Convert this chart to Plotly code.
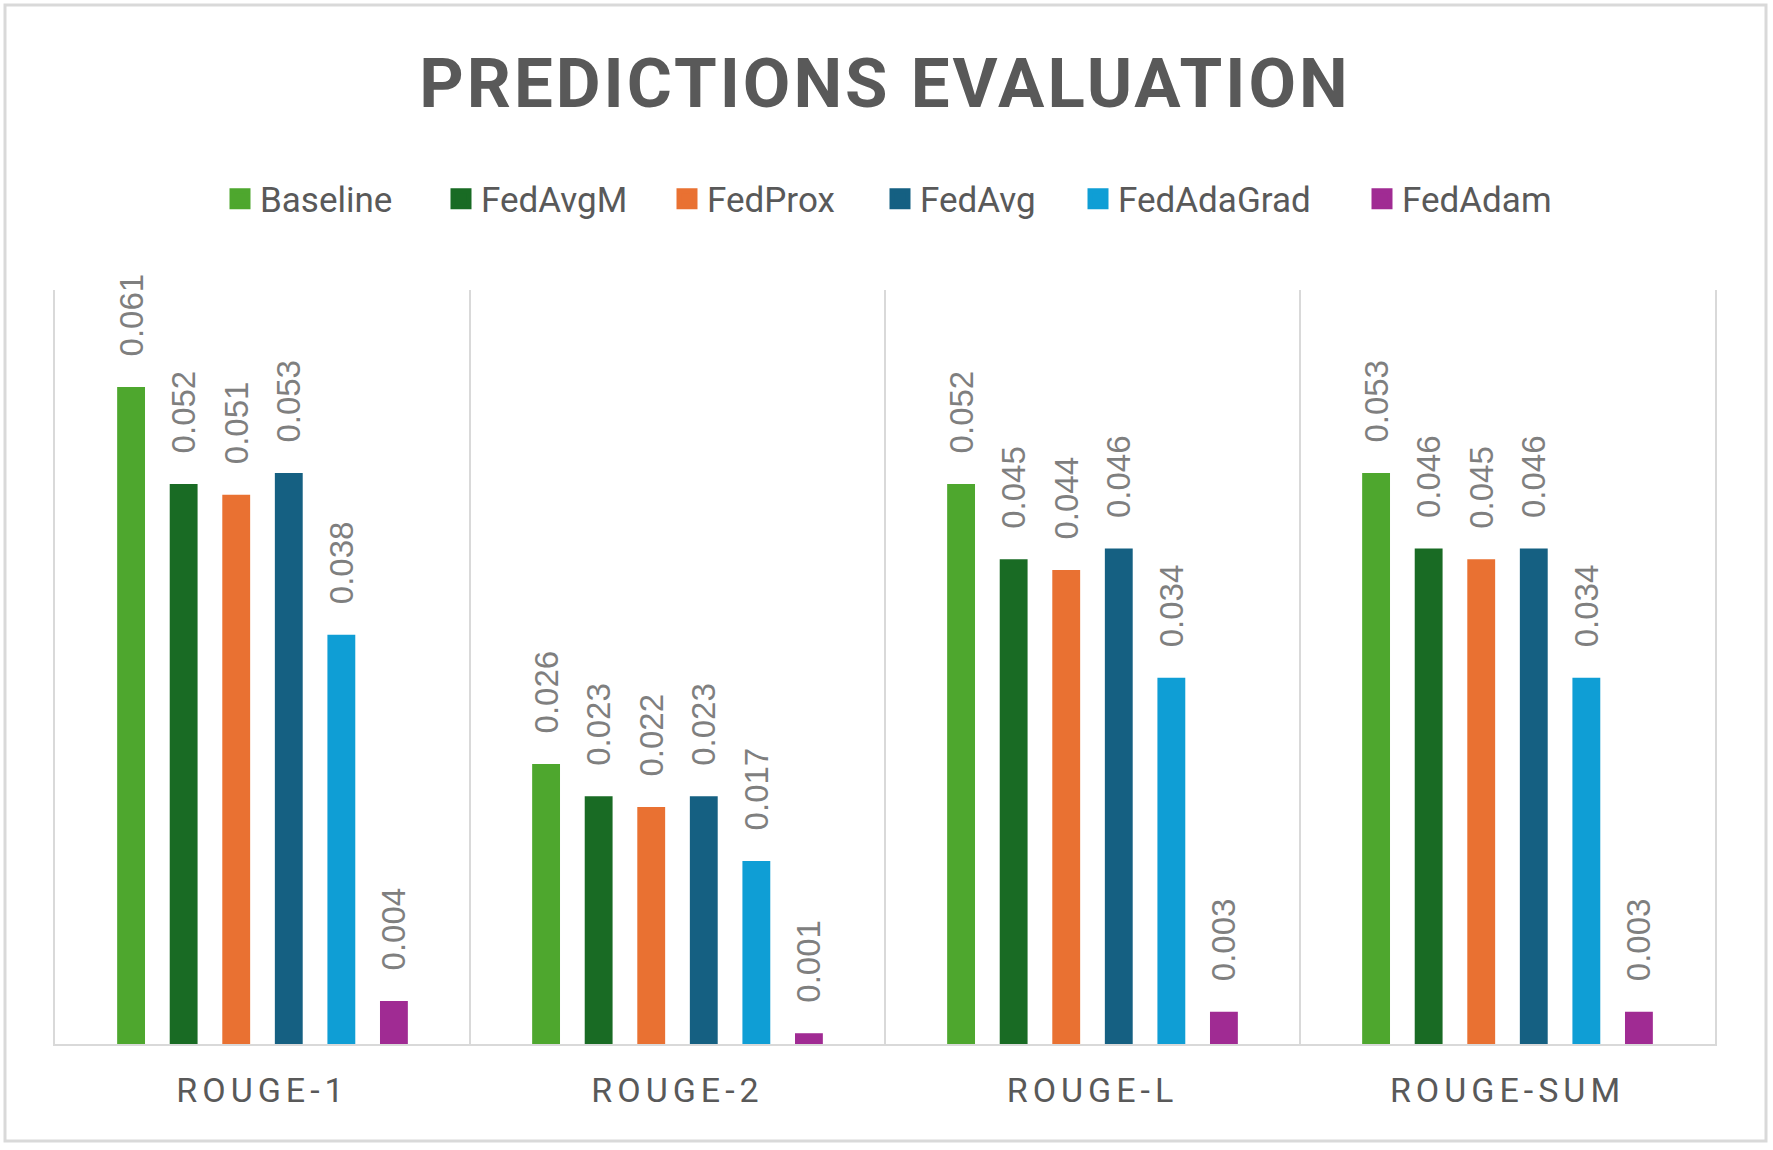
import plotly.graph_objects as go

categories = ["ROUGE-1", "ROUGE-2", "ROUGE-L", "ROUGE-SUM"]
series_names = ["Baseline", "FedAvgM", "FedProx", "FedAvg", "FedAdaGrad", "FedAdam"]
baseline = [0.061, 0.026, 0.052, 0.053]
fedavgm = [0.052, 0.023, 0.045, 0.046]
fedprox = [0.051, 0.022, 0.044, 0.045]
fedavg = [0.053, 0.023, 0.046, 0.046]
fedadagrad = [0.038, 0.017, 0.034, 0.034]
fedadam = [0.004, 0.001, 0.003, 0.003]
series_values = [baseline, fedavgm, fedprox, fedavg, fedadagrad, fedadam]
colors = ["#4EA72E", "#196B24", "#E97132", "#156082", "#0F9ED5", "#A02B93"]

W, H = 1773, 1150
L, R, T, B = 55, 58, 290, 106
pw, ph = W - L - R, H - T - B

def px_x(p):
    return (p - L) / pw

def px_y(p):
    return (H - B - p) / ph

legend_left_px = [220, 441, 667, 880, 1078, 1362]

fig = go.Figure()
for i, (name, vals, col) in enumerate(zip(series_names, series_values, colors)):
    lg = "legend" if i == 0 else f"legend{i+1}"
    fig.add_trace(go.Bar(
        x=categories, y=vals, name=name, marker=dict(color=col, line=dict(width=0)),
        texttemplate="\u00a0\u00a0\u00a0%{y:.3f}", textposition="outside", textangle=-90,
        constraintext="none", cliponaxis=False,
        textfont=dict(family="Liberation Sans, Arial, sans-serif", size=33, color="#7F7F7F"),
        showlegend=False, legendgroup=name, hoverinfo="skip",
    ))
    fig.add_trace(go.Scatter(
        x=[None], y=[None], mode="markers", name=name, legendgroup=name, legend=lg,
        marker=dict(symbol="square", size=16, color=col, line=dict(color=col, width=5)),
        showlegend=True, hoverinfo="skip",
    ))

layout = dict(
    width=W, height=H,
    margin=dict(l=L, r=R, t=T, b=B, pad=0),
    paper_bgcolor="white", plot_bgcolor="white",
    barmode="group", bargap=0.24, bargroupgap=0.47,
    title=dict(text="<b>PREDICTIONS EVALUATION</b>", x=0.5, xref="paper", xanchor="center",
               y=1 - 83 / H, yanchor="middle", yref="container",
               font=dict(family="Roboto, sans-serif", size=69, color="#595959")),
    xaxis=dict(type="category", range=[-0.5, 3.5], showgrid=True, tickson="boundaries",
               gridcolor="#D9D9D9", gridwidth=2, ticks="", showline=True, linecolor="#D9D9D9",
               linewidth=2, zeroline=False, ticklabelstandoff=15,
               tickfont=dict(family="Roboto, sans-serif", size=34, color="#595959")),
    yaxis=dict(range=[0, 0.07], showgrid=False, showticklabels=False, ticks="", zeroline=False,
               showline=True, mirror=True, linecolor="#D9D9D9", linewidth=2),
    shapes=[dict(type="rect", xref="paper", yref="paper",
                 x0=px_x(5), x1=px_x(1766), y0=px_y(1141), y1=px_y(5),
                 line=dict(color="#D9D9D9", width=3), fillcolor="rgba(0,0,0,0)", layer="below")],
    hovermode=False,
)
for i in range(6):
    key = "legend" if i == 0 else f"legend{i+1}"
    layout[key] = dict(x=px_x(legend_left_px[i]), xanchor="left", y=px_y(199), yanchor="middle",
                       orientation="h", bgcolor="rgba(0,0,0,0)", borderwidth=0,
                       font=dict(family="Roboto, sans-serif", size=35, color="#595959"))
fig.update_layout(**layout)

post = """
document.querySelectorAll('.xtick text').forEach(function(t){t.style.letterSpacing='5px';});
document.querySelectorAll('.gtitle').forEach(function(t){t.style.letterSpacing='3px';});
"""
fig.write_html("out.html", post_script=post)
